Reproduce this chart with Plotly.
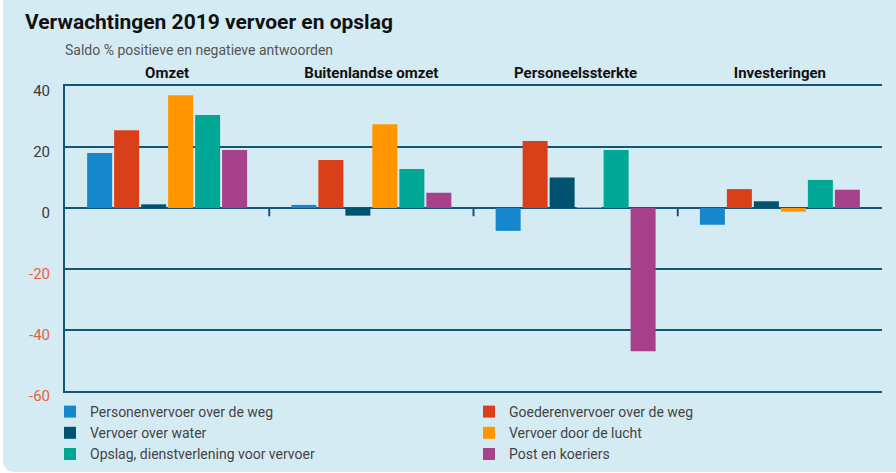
import plotly.graph_objects as go

# ---------------- data ----------------
categories = ["Omzet", "Buitenlandse omzet", "Personeelssterkte", "Investeringen"]
series_names = [
    "Personenvervoer over de weg",
    "Goederenvervoer over de weg",
    "Vervoer over water",
    "Vervoer door de lucht",
    "Opslag, dienstverlening voor vervoer",
    "Post en koeriers",
]
personen = [18, 1, -7.5, -5.5]
goederen = [25.5, 15.7, 22, 6.2]
water = [1.2, -2.5, 10, 2.2]
lucht = [37, 27.5, 0.2, -1.2]
opslag = [30.5, 12.8, 19, 9.2]
post = [19, 5, -47, 6]
series_values = [personen, goederen, water, lucht, opslag, post]
series_colors = ["#1687ca", "#d9401a", "#00526f", "#ff9600", "#00a794", "#a74189"]

ytick_vals = [40, 20, 0, -20, -40, -60]
ytick_labels = ["40", "20", "0", "-20", "-40", "-60"]

title_text = "Verwachtingen 2019 vervoer en opslag"
subtitle_text = "Saldo % positieve en negatieve antwoorden"

# ---------------- layout constants ----------------
W, H = 896, 473
ML, MR, MT, MB = 65, 14, 86, 82
PW, PH = W - ML - MR, H - MT - MB
BG = "#d5ebf4"
GRID = "#135576"
FONT = "Roboto"


def px2x(px):
    return (px - ML) / PW


def px2y(py):
    return (H - MB - py) / PH


fig = go.Figure()
for name, vals, col in zip(series_names, series_values, series_colors):
    fig.add_trace(go.Bar(x=categories, y=vals, name=name, marker_color=col,
                         marker_line_width=0))

# tick labels: positive dark, negative orange
tick_text = []
for v, t in zip(ytick_vals, ytick_labels):
    c = "#e8603c" if v < 0 else "#3a3a3a"
    tick_text.append(f"<span style='color:{c}'>{t}</span>")

shapes = []
# rounded background panel (left corners rounded)
r = 12
x0, x1 = px2x(3), px2x(W + 20)
y0, y1 = px2y(-20), px2y(472)
rx, ry = r / PW, r / PH
path = (f"M {x1},{y0} L {x0},{y0} L {x0},{y1 + ry} Q {x0},{y1} {x0 + rx},{y1} "
        f"L {x1},{y1} Z")
shapes.append(dict(type="path", path=path, xref="paper", yref="paper",
                   fillcolor=BG, line_width=0, layer="below"))
# small boundary ticks below the zero line between categories
for i in range(len(categories) - 1):
    shapes.append(dict(type="line", xref="x", yref="y", x0=i + 0.5, x1=i + 0.5,
                       y0=0, y1=-2.7, line=dict(color=GRID, width=2)))

fig.update_layout(
    width=W, height=H,
    margin=dict(l=ML, r=MR, t=MT, b=MB, autoexpand=False),
    paper_bgcolor="white",
    plot_bgcolor=BG,
    barmode="group",
    bargap=0.207,
    bargroupgap=0.074,
    font=dict(family=FONT, size=14, color="#3a3a3a"),
    title=dict(text=f"<b>{title_text}</b>", x=25 / W, xref="container", xanchor="left",
               y=1 - 22 / H, yref="container", yanchor="middle",
               font=dict(family=FONT, size=21, color="#111111")),
    annotations=[dict(text=subtitle_text, xref="paper", yref="paper",
                      x=px2x(63), y=px2y(50), xanchor="left", yanchor="middle",
                      showarrow=False, font=dict(family=FONT, size=14, color="#555555"))],
    shapes=shapes,
    xaxis=dict(side="top", showgrid=False, showline=True, mirror=True,
               linecolor=GRID, linewidth=2, ticks="", ticklabelstandoff=0,
               tickfont=dict(family=FONT, size=15, color="#111111"),
               tickprefix="<b>", ticksuffix="</b>", automargin=False,
               fixedrange=True),
    yaxis=dict(range=[-60, 40], tickvals=ytick_vals, ticktext=tick_text,
               showgrid=True, gridcolor=GRID, gridwidth=2,
               zeroline=True, zerolinecolor=GRID, zerolinewidth=2,
               showline=True, linecolor=GRID, linewidth=2,
               ticks="", ticklabelstandoff=10, ticklabelshift=5,
               tickfont=dict(family=FONT, size=15), automargin=False),
    legend=dict(orientation="h", x=px2x(50), xanchor="left", y=px2y(396),
                yanchor="top", entrywidth=374, entrywidthmode="pixels",
                font=dict(family=FONT, size=14, color="#444444"),
                bgcolor="rgba(0,0,0,0)", traceorder="normal"),
    showlegend=True,
)

fig.write_html("out.html", config={"displayModeBar": False},
               post_script="document.body.style.margin='0';")
